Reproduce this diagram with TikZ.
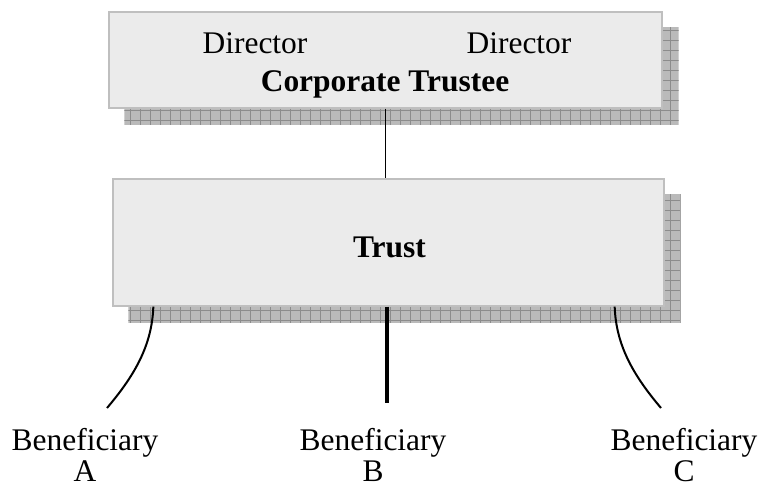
\documentclass[tikz,border=0pt]{standalone}
\usepackage{fontspec}
\setmainfont{Liberation Serif}
\usetikzlibrary{calc}
\tikzset{
    box/.style={draw=black!25, line width=1pt, fill=black!8, inner sep=0pt},
    txt/.style={font=\fontsize{23.6}{23.25}\selectfont, inner sep=0pt, anchor=base, align=center},
}
\newcommand{\shadowgrid}[1]{%
    \begin{scope}
        \clip ($(#1.south west)+(16,16)$) rectangle ($(#1.north east)+(16,16)$);
        \fill [black!27] ($(#1.south west)+(16,16)$) rectangle ($(#1.north east)+(16,16)$);
        \draw [black!45, line width=0.5pt, step=7.5pt] (0,0) grid (780,500);
    \end{scope}}
\begin{document}
\begin{tikzpicture}[x=0.75pt, y=-0.75pt]
    \useasboundingbox (0,0) rectangle (762,489);
    % boxes
    \path (385.5,60) node [box, minimum width=414.75pt, minimum height=72pt, draw=none, fill=none] (trustee) {};
    \path (388.5,242.5) node [box, minimum width=413.25pt, minimum height=95.25pt, draw=none, fill=none] (trust) {};
    \shadowgrid{trustee}
    \shadowgrid{trust}
    \node [box, minimum width=414.75pt, minimum height=72pt] at (trustee) {};
    \node [box, minimum width=413.25pt, minimum height=95.25pt] at (trust) {};
    % texts
    \node [txt] (dirA) at (255,53) {Director};
    \node [txt] (dirB) at (519,53) {Director};
    \node [txt, font=\fontsize{23.6}{30}\selectfont\bfseries] (ct) at (385,91) {Corporate Trustee};
    \node [txt, font=\fontsize{23.6}{30}\selectfont\bfseries] (tr) at (389.5,257) {Trust};
    \node [txt] (benA) at (85,481) {Beneficiary\\A};
    \node [txt] (benB) at (373,481) {Beneficiary\\B};
    \node [txt] (benC) at (684,481) {Beneficiary\\C};
    % connectors
    \coordinate (endA) at (107,408);
    \coordinate (endB) at (387,403);
    \coordinate (endC) at (661,408);
    \draw [line width=1.4pt] (trustee.south) -- (trustee.south |- trust.north);
    \draw [line width=3pt] (endB |- trust.south) -- (endB);
    \draw [line width=1.5pt] ($(trust.south west)+(41,0)$) .. controls (152,345) and (135,375) .. (endA);
    \draw [line width=1.5pt] ($(trust.south east)+(-50,0)$) .. controls (616,345) and (633,375) .. (endC);
\end{tikzpicture}
\end{document}
